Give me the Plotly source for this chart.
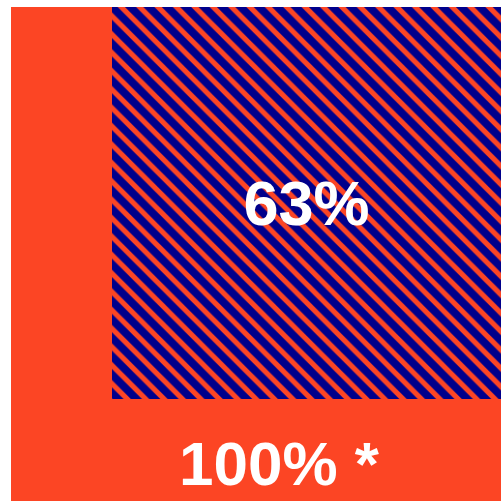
import math
import plotly.graph_objects as go

# ---- data ----
total_label = ["100% *"]
total_value = [100]
part_label = ["63%"]
part_value = [63]

ORANGE = "#FC4524"
NAVY = "#00008B"
FONT = "Arial, Liberation Sans, sans-serif"

s = math.sqrt(part_value[0] / total_value[0])  # side scale (area-proportional square)

fig = go.Figure()

fig.add_trace(go.Bar(
    x=[0.5], y=[1.0], base=[0], width=[1.0],
    marker=dict(color=ORANGE, line=dict(width=0)),
    text=["\u00a0\u00a0\u2009" + t for t in total_label],
    textposition="inside", insidetextanchor="start",
    textfont=dict(family=FONT, size=62, color="white", weight="bold"),
    textangle=0, hoverinfo="skip", showlegend=False,
))

fig.add_trace(go.Bar(
    x=[1 - s / 2], y=[s], base=[1 - s], width=[s],
    marker=dict(color=NAVY, line=dict(width=0),
                pattern=dict(shape="\\", fgcolor=ORANGE, bgcolor=NAVY,
                             size=13, solidity=0.4, fillmode="replace")),
    text=part_label,
    textposition="inside", insidetextanchor="middle",
    textfont=dict(family=FONT, size=63, color="white", weight="bold"),
    textangle=0, hoverinfo="skip", showlegend=False,
))

fig.update_layout(
    width=501, height=501,
    margin=dict(l=11, r=0, t=7, b=0, pad=0),
    barmode="overlay", bargap=0,
    paper_bgcolor="white", plot_bgcolor="white",
    hovermode=False,
    xaxis=dict(range=[0, 1], visible=False, fixedrange=True),
    yaxis=dict(range=[0, 1], visible=False, fixedrange=True),
)

fig.write_html("out.html",
               config={"displayModeBar": False, "staticPlot": True},
               post_script="document.body.style.margin='0';document.body.style.overflow='hidden';")
